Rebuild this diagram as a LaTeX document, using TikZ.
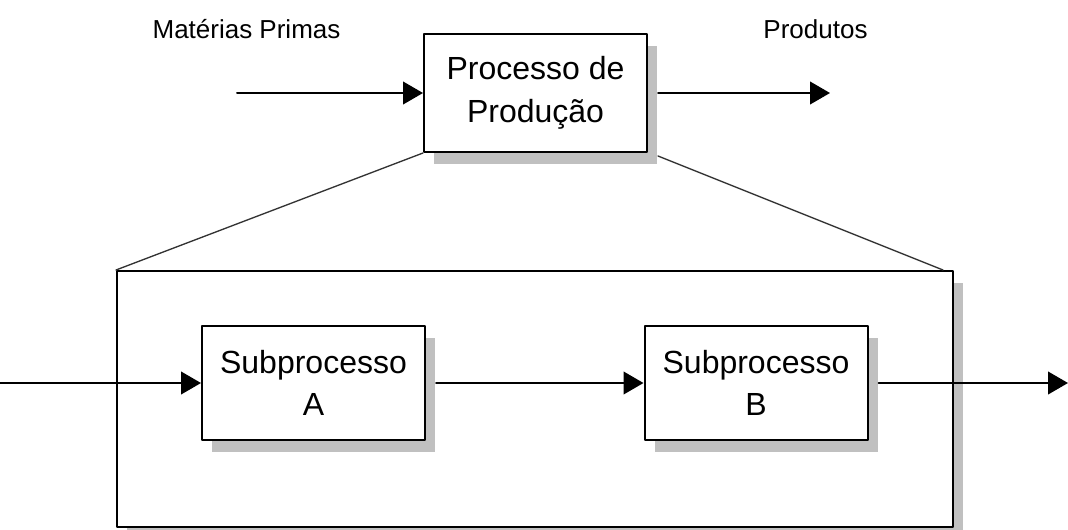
\documentclass[tikz,border=0pt]{standalone}
\usepackage{fontspec}
\setmainfont{Liberation Sans}
\usepackage{tikz}
\usetikzlibrary{arrows.meta}
\usetikzlibrary{shadows}
\usetikzlibrary{calc}
\definecolor{sombra}{RGB}{192,192,192}
\newcommand{\fonteCaixa}{\fontsize{24}{32}\selectfont}
\newcommand{\fonteRotulo}{\fontsize{19.5}{23}\selectfont}
\begin{document}
\begin{tikzpicture}[line cap=round,line join=round,>={Triangle[length=15pt,width=17pt]},x=0.75pt,y=-0.75pt,
  caixa/.style={draw,line width=1.5pt,fill=white,align=center,inner sep=0pt,
    minimum width=167.25pt,font=\fonteCaixa,
    drop shadow={shadow xshift=7.5pt,shadow yshift=-9pt,fill=sombra,opacity=1}},
  seta/.style={->,line width=1.5pt},
  ligacao/.style={line width=1pt,color=black!80}]
\clip (0,0) rectangle (1068,529);
%\draw[help lines] (0,0) grid (1068,529);
% quadro dos subprocessos
\node [caixa,minimum width=627pt,minimum height=192pt,line width=1.5pt] (quadro) at (535,399) {};
\node [caixa,minimum height=88.5pt] (processo) at (535.5,93) {Processo de\\Produção};
\node [caixa,minimum height=85.5pt] (subA) at (313.5,383) {Subprocesso\\A};
\node [caixa,minimum height=85.5pt] (subB) at (756,383) {Subprocesso\\B};
% rotulos
\node [font=\fonteRotulo,anchor=base] (materias) at (246.5,38) {Matérias Primas};
\node [font=\fonteRotulo,anchor=base] (produtos) at (815.5,38) {Produtos};
% pontas livres
\coordinate (entrada) at (237,93);
\coordinate (saida) at (830,93);
\coordinate (entradaA) at (0,383);
\coordinate (saidaB) at (1068,383);
% setas
\draw [seta] (entrada) -- (processo.west);
\draw [seta] ([xshift=7.5pt]processo.east) -- (saida);
\draw [seta] (entradaA) -- (subA.west);
\draw [seta] ([xshift=7.5pt]subA.east) -- (subB.west);
\draw [seta] ([xshift=7.5pt]subB.east) -- (saidaB);
% ligacoes do processo ao quadro
\draw [ligacao] (processo.south west) -- (quadro.north west);
\draw [ligacao] ($(processo.south east)+(10,3)$) -- ($(quadro.north east)+(-11,0)$);
\end{tikzpicture}
\end{document}
